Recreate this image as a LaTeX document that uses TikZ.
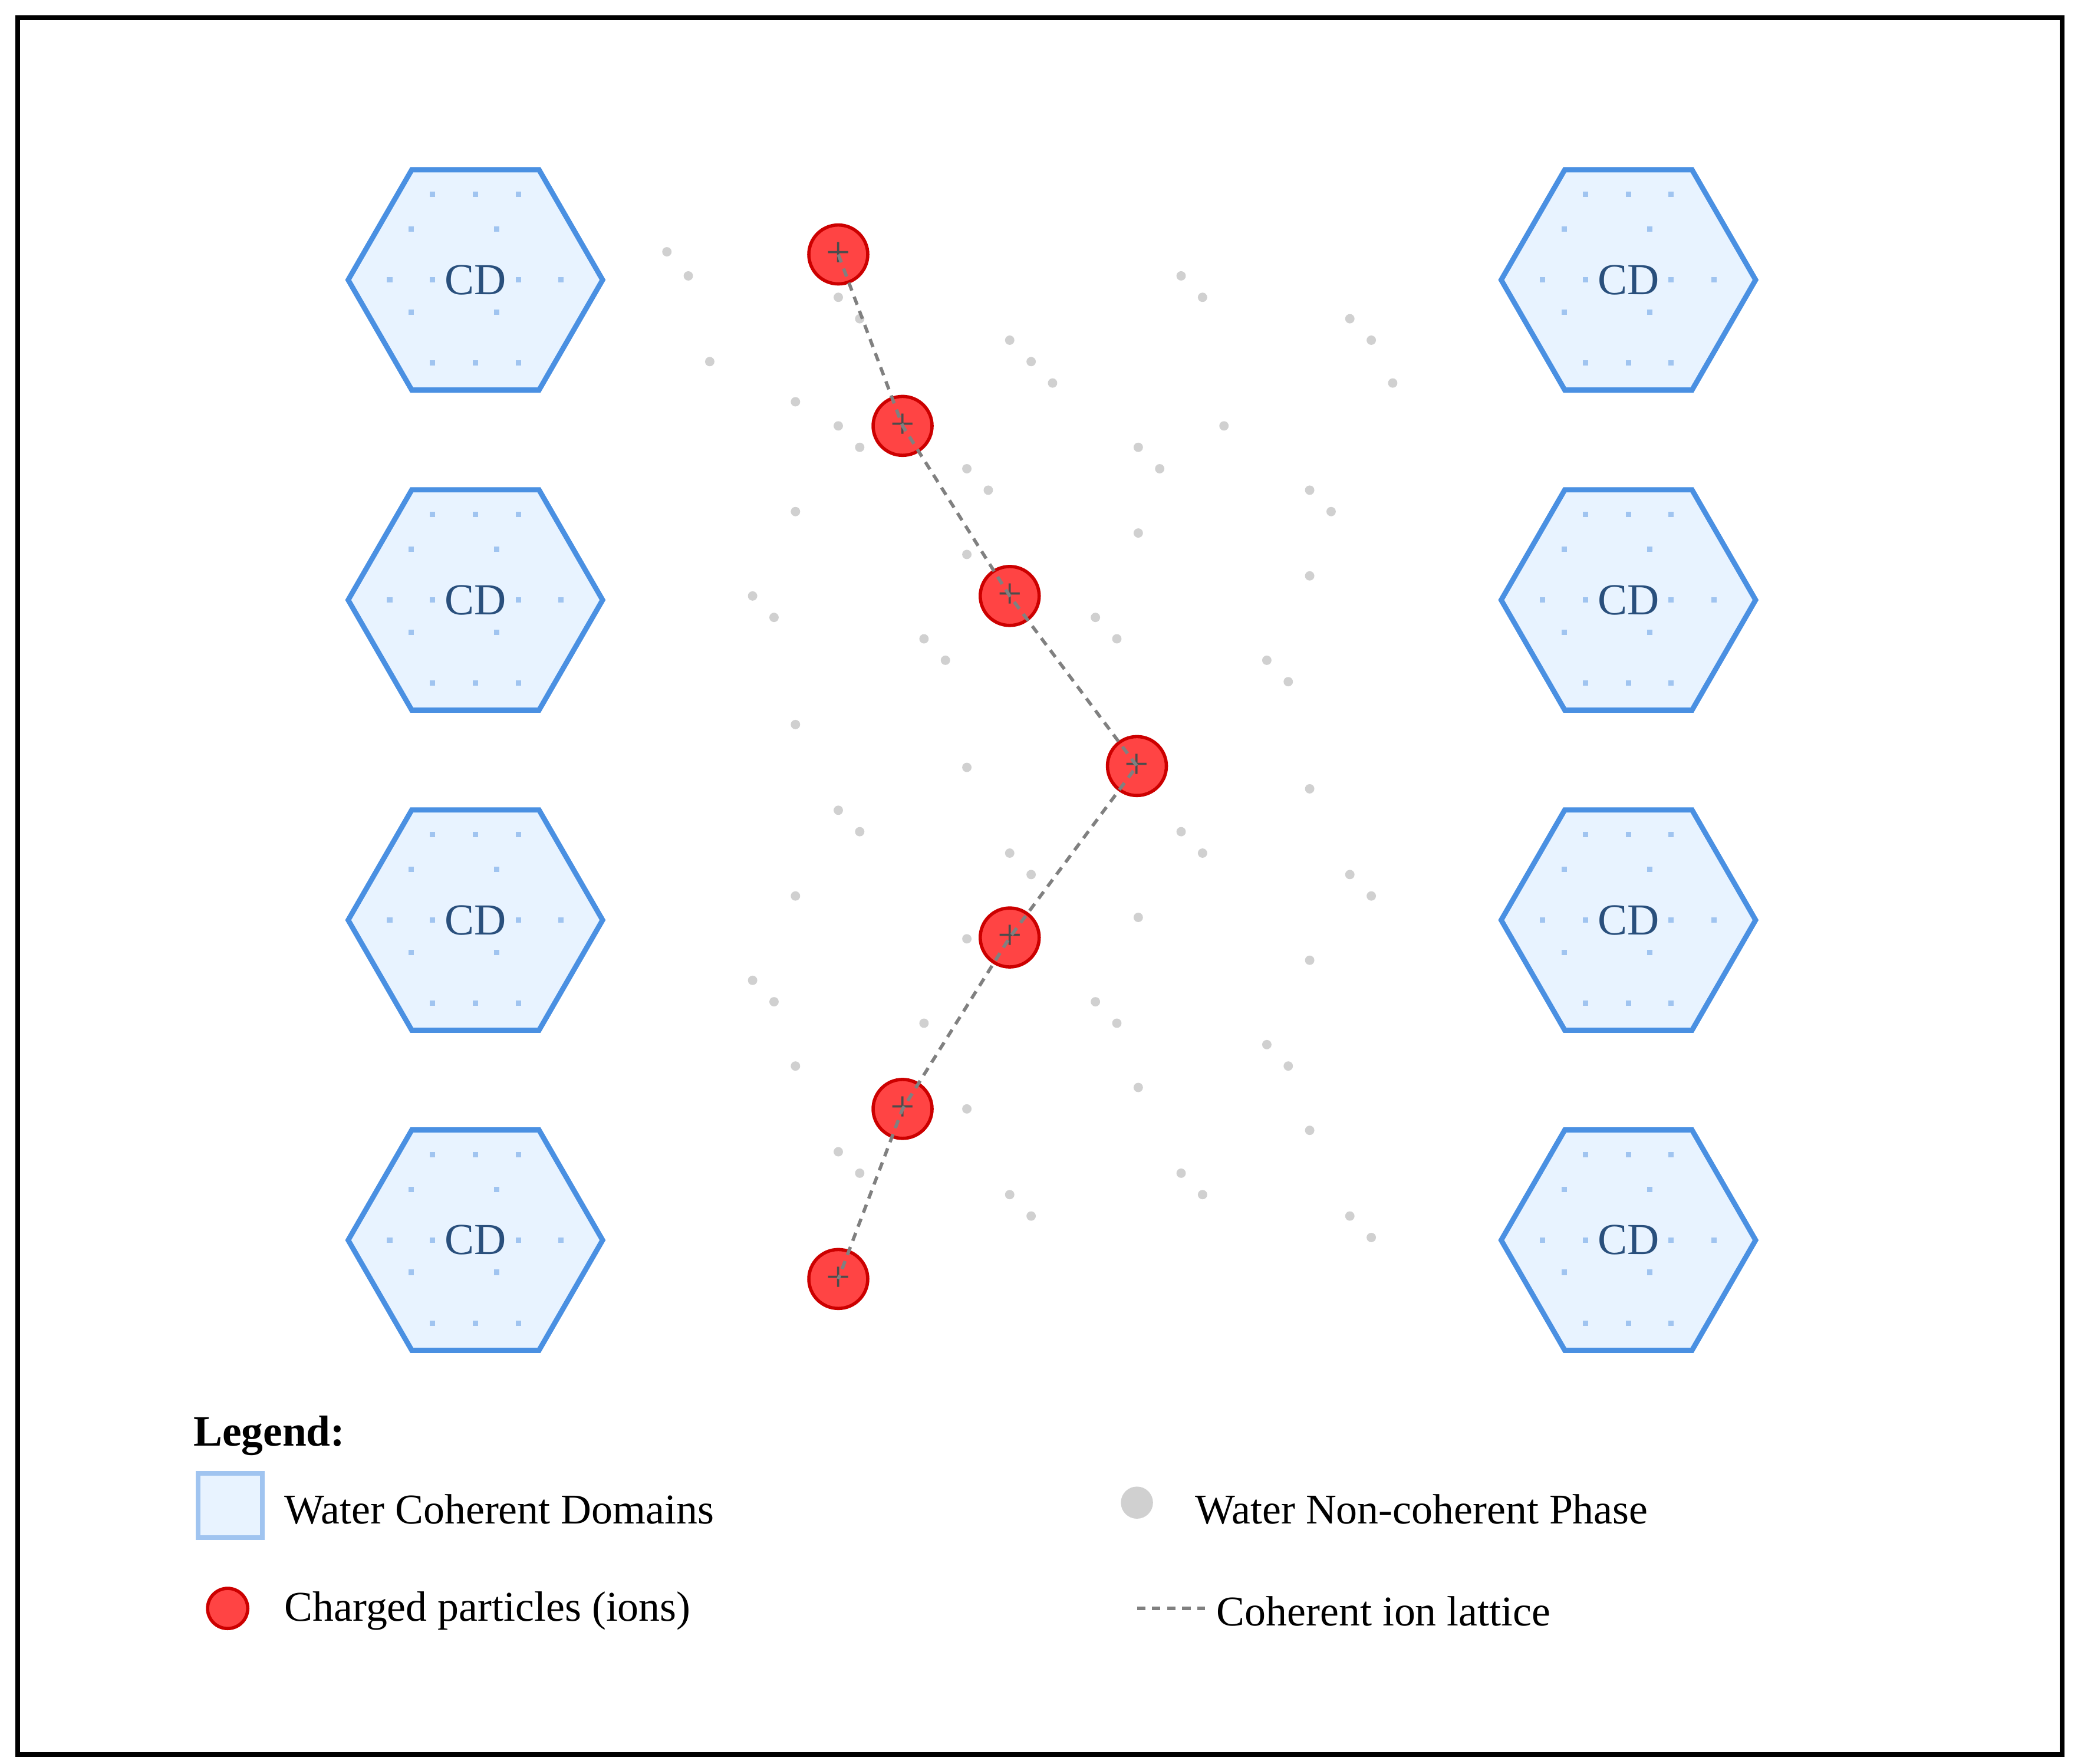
\documentclass[tikz,border=0pt]{standalone}
\usepackage{fontspec}
\setmainfont{Liberation Serif}
\usetikzlibrary{shapes.geometric}
\usetikzlibrary{positioning}
\definecolor{cdfill}{RGB}{232,243,255}
\definecolor{cdline}{RGB}{74,144,226}
\definecolor{cddot}{RGB}{160,196,240}
\definecolor{ionfill}{RGB}{255,68,68}
\definecolor{ionline}{RGB}{204,0,0}
\definecolor{wdot}{RGB}{208,208,208}
\tikzset{
    cd/.style={regular polygon, regular polygon sides=6, minimum size=9.5cm, inner sep=0pt,
        draw=cdline, fill=cdfill, line width=5.5pt, text=cdline!55!black,
        font=\fontsize{47}{52}\selectfont},
    ion/.style={circle, minimum size=2.2cm, inner sep=0pt, draw=ionline, fill=ionfill,
        line width=3.5pt, text=black!70, font=\fontsize{46}{50}\selectfont},
    lattice/.style={draw=gray, line width=3.5pt, dash pattern=on 9pt off 7pt},
    legtext/.style={anchor=west, font=\fontsize{45}{50}\selectfont}
}
\begin{document}
\begin{tikzpicture}[x=0.05cm, y=-0.05cm]
    \useasboundingbox (0,0) rectangle (1554,1317);
    \draw[line width=5pt] (13,13) rectangle (1540,1310);

    % Non-coherent water molecules
    \foreach \x/\y in {498/188,514/206,882/206,898/222,754/254,770/270,786/286,1008/238,1024/254,
        1040/286,530/270,594/300,626/318,642/334,914/318,850/334,866/350,722/350,738/366,978/366,
        994/382,594/382,850/398,722/414,978/430,562/445,578/461,818/461,834/477,690/477,706/493,
        946/493,962/509,594/541,722/573,978/589,626/605,642/621,882/621,898/637,754/637,770/653,
        1008/653,1024/669,594/669,850/685,722/701,978/717,562/732,578/748,818/748,834/764,690/764,
        946/780,962/796,594/796,850/812,722/828,978/844,626/860,642/876,882/876,898/892,754/892,
        770/908,1008/908,1024/924,626/222,642/238} {
        \fill[wdot] (\x,\y) circle (3.5);
    }

    % Coherent domains
    \foreach \y [count=\i] in {209,448,687,926} {
        \node[cd] (cdl\i) at (355,\y) {CD};
        \node[cd] (cdr\i) at (1216,\y) {CD};
        \foreach \c in {cdl\i,cdr\i} {
            \foreach \dx/\dy in {-32/-64,0/-64,32/-64,-48/-38,16/-38,-64/0,-32/0,32/0,64/0,
                -48/24,16/24,-32/62,0/62,32/62} {
                \fill[cddot] ([shift={(\dx-2,\dy-2)}]\c.center) rectangle ++(4,4);
            }
        }
    }

    % Charged particles
    \foreach \x/\y [count=\i] in {626/190,674/318,754/445,849/572,754/700,674/828,626/955} {
        \node[ion] (ion\i) at (\x,\y) {+};
    }
    \draw[lattice] (ion1.center) -- (ion2.center) -- (ion3.center) -- (ion4.center)
        -- (ion5.center) -- (ion6.center) -- (ion7.center);

    % Legend
    \node[legtext, font=\fontsize{46}{50}\selectfont\bfseries] (legtitle) at (142,1072) {Legend:};
    \node[draw=cddot, fill=cdfill, line width=5pt, minimum size=2.4cm, inner sep=0pt] (legcd) at (172,1124) {};
    \node[legtext] (legcdtext) at (210,1127) {Water Coherent Domains};
    \node[circle, fill=wdot, minimum size=1.2cm, inner sep=0pt] (legw) at (849,1122) {};
    \node[legtext] (legwtext) at (890,1127) {Water Non-coherent Phase};
    \node[circle, draw=ionline, fill=ionfill, line width=3.5pt, minimum size=1.5cm, inner sep=0pt] (legion) at (170,1201) {};
    \node[legtext] (legiontext) at (210,1203) {Charged particles (ions)};
    \coordinate (leglat) at (849,1201);
    \coordinate (leglatend) at (900,1201);
    \node[legtext] (leglattext) at (906,1203) {Coherent ion lattice};
    \draw[lattice] (leglat) -- (leglatend);
\end{tikzpicture}
\end{document}
